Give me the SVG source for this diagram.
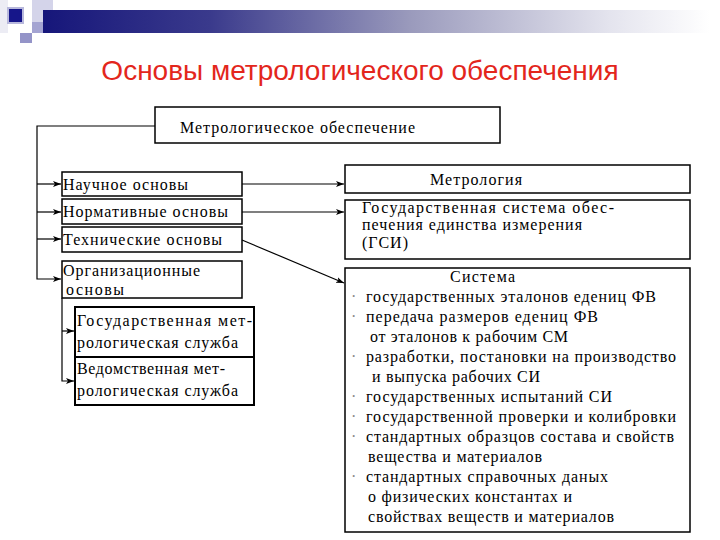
<svg xmlns="http://www.w3.org/2000/svg" width="720" height="540" viewBox="0 0 720 540">
<defs>
<linearGradient id="bar" x1="0" y1="0" x2="1" y2="0">
<stop offset="0" stop-color="#16167a"/>
<stop offset="0.25" stop-color="#3a3a8c"/>
<stop offset="0.55" stop-color="#9a9abc"/>
<stop offset="0.85" stop-color="#e4e4ee"/>
<stop offset="1" stop-color="#ffffff"/>
</linearGradient>
<marker id="ah" markerWidth="8" markerHeight="6" refX="8" refY="3" orient="auto" markerUnits="userSpaceOnUse">
<path d="M0,0 L8,3 L0,6 L2,3 Z" fill="#000"/>
</marker>
<style>
.box{fill:#fff;stroke:#000;stroke-width:1.5}
.bx2{fill:#fff;stroke:#000;stroke-width:2}
.t{font-family:'Liberation Serif','Times New Roman',serif;font-size:16px;fill:#000}
.b{font-family:'Liberation Serif','Times New Roman',serif;font-size:16px;fill:#888}
.c{fill:none;stroke:#000;stroke-width:1.2}
</style>
</defs>
<rect width="720" height="540" fill="#fff"/>
<g id="header">
<rect x="0" y="0" width="8" height="33" fill="#ececf4"/>
<rect x="8" y="8" width="15" height="15" fill="#16168a" stroke="#b8b8dc" stroke-width="2"/>
<rect x="32" y="0" width="21" height="22" fill="#d4d4ea"/>
<rect x="43" y="10" width="667" height="23" fill="url(#bar)"/>
<rect x="32" y="22" width="11" height="11" fill="#a4a4d2"/>
<rect x="20" y="33" width="12" height="10" fill="#9494c8"/>
</g>
<text x="360" y="80" text-anchor="middle" font-family="Liberation Sans, Arial, sans-serif" font-size="28" fill="#e3261c">Основы метрологического обеспечения</text>
<g id="connectors">
<polyline class="c" points="155,126 37,126 37,279 61,279" marker-end="url(#ah)"/>
<line class="c" x1="37" y1="184" x2="61" y2="184" marker-end="url(#ah)"/>
<line class="c" x1="37" y1="212" x2="61" y2="212" marker-end="url(#ah)"/>
<line class="c" x1="37" y1="239" x2="61" y2="239" marker-end="url(#ah)"/>
<line class="c" x1="242" y1="184" x2="344" y2="184" marker-end="url(#ah)"/>
<line class="c" x1="242" y1="212" x2="344" y2="212" marker-end="url(#ah)"/>
<line class="c" x1="242" y1="240" x2="344" y2="283" marker-end="url(#ah)"/>
<polyline class="c" points="62,298 62,381 74,381" marker-end="url(#ah)"/>
<line class="c" x1="62" y1="331" x2="74" y2="331" marker-end="url(#ah)"/>
</g>
<g id="mo">
<rect class="box" x="155" y="107" width="345" height="36"/>
<text class="t" x="180" y="133" textLength="235" lengthAdjust="spacing">Метрологическое обеспечение</text>
</g>
<g id="nauch">
<rect class="box" x="62" y="172" width="180" height="24"/>
<text class="t" x="63" y="190" textLength="125" lengthAdjust="spacing">Научное основы</text>
</g>
<g id="norm">
<rect class="box" x="62" y="199" width="180" height="25"/>
<text class="t" x="63" y="217" textLength="165" lengthAdjust="spacing">Нормативные основы</text>
</g>
<g id="tech">
<rect class="box" x="62" y="227" width="180" height="25"/>
<text class="t" x="63" y="245" textLength="159" lengthAdjust="spacing">Технические основы</text>
</g>
<g id="org">
<rect class="box" x="62" y="261" width="180" height="37"/>
<text class="t" x="63" y="276" textLength="137" lengthAdjust="spacing">Организационные</text>
<text class="t" x="66" y="295" textLength="58" lengthAdjust="spacing">основы</text>
</g>
<g id="gms">
<rect class="bx2" x="75" y="307" width="179" height="50"/>
<text class="t" x="77" y="326" textLength="175" lengthAdjust="spacing">Государственная мет-</text>
<text class="t" x="77" y="348" textLength="161" lengthAdjust="spacing">рологическая служба</text>
</g>
<g id="vms">
<rect class="bx2" x="75" y="357" width="179" height="48"/>
<text class="t" x="77" y="374" textLength="148" lengthAdjust="spacing">Ведомственная мет-</text>
<text class="t" x="77" y="396" textLength="161" lengthAdjust="spacing">рологическая служба</text>
</g>
<g id="metr">
<rect class="box" x="345" y="165" width="345" height="28"/>
<text class="t" x="430" y="185" textLength="92" lengthAdjust="spacing">Метрология</text>
</g>
<g id="gsi">
<rect class="box" x="345" y="200" width="345" height="59"/>
<text class="t" x="362" y="213" textLength="252" lengthAdjust="spacing">Государственная система обес-</text>
<text class="t" x="362" y="230" textLength="220" lengthAdjust="spacing">печения единства измерения</text>
<text class="t" x="362" y="248" textLength="46" lengthAdjust="spacing">(ГСИ)</text>
</g>
<g id="sys">
<rect class="box" x="345" y="268" width="345" height="264"/>
<text class="t" x="450" y="282" textLength="65" lengthAdjust="spacing">Система</text>
<text class="b" x="351" y="302">·</text>
<text class="t" x="366" y="302" textLength="290" lengthAdjust="spacing">государственных эталонов едениц ФВ</text>
<text class="b" x="351" y="322">·</text>
<text class="t" x="366" y="322" textLength="232" lengthAdjust="spacing">передача размеров едениц  ФВ</text>
<text class="t" x="370" y="342" textLength="198" lengthAdjust="spacing">от эталонов к рабочим СМ</text>
<text class="b" x="351" y="362">·</text>
<text class="t" x="366" y="362" textLength="310" lengthAdjust="spacing">разработки, постановки на производство</text>
<text class="t" x="372" y="382" textLength="168" lengthAdjust="spacing">и выпуска рабочих СИ</text>
<text class="b" x="351" y="402">·</text>
<text class="t" x="366" y="402" textLength="246" lengthAdjust="spacing">государственных испытаний СИ</text>
<text class="b" x="351" y="422">·</text>
<text class="t" x="366" y="422" textLength="310" lengthAdjust="spacing">государственной проверки и колибровки</text>
<text class="b" x="351" y="442">·</text>
<text class="t" x="366" y="442" textLength="308" lengthAdjust="spacing">стандартных образцов состава и свойств</text>
<text class="t" x="368" y="462" textLength="174" lengthAdjust="spacing">вещества и материалов</text>
<text class="b" x="351" y="482">·</text>
<text class="t" x="366" y="482" textLength="242" lengthAdjust="spacing">стандартных справочных даных</text>
<text class="t" x="368" y="502" textLength="204" lengthAdjust="spacing">о физических константах и</text>
<text class="t" x="368" y="522" textLength="246" lengthAdjust="spacing">свойствах веществ и материалов</text>
</g>
</svg>
